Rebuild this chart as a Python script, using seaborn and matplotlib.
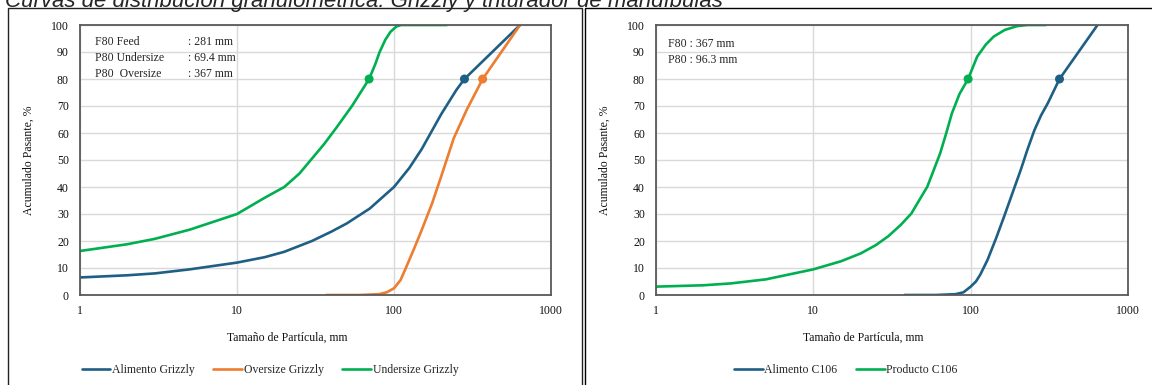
import matplotlib
matplotlib.use("Agg")
import matplotlib.pyplot as plt
from matplotlib.patches import Rectangle
from matplotlib.lines import Line2D
import seaborn as sns
import pandas as pd

# ---------------- data ----------------
title = "Curvas de distribución granulométrica: Grizzly y triturador de mandíbulas"

feed_size = [1, 2, 3, 5, 10, 15, 20, 30, 40, 50, 70, 100, 125, 150, 200, 250, 281, 635]
feed_pass = [6.5, 7.3, 8.0, 9.5, 12.0, 14.0, 16.0, 20.0, 23.5, 26.5, 32.0, 40.0, 47.0, 54.0, 67.0, 76.0, 80.0, 100.0]

over_size = [37, 60, 80, 90, 100, 110, 120, 135, 150, 175, 200, 240, 290, 367, 635]
over_pass = [0, 0, 0.3, 1.0, 2.5, 5.5, 10.5, 17.5, 24, 34, 44, 58, 68.5, 80, 100]

under_size = [1, 2, 3, 5, 10, 15, 20, 25, 30, 36, 43, 54, 69.4, 76, 81, 88, 95, 104, 111, 217]
under_pass = [16.3, 18.8, 20.8, 24.2, 30, 36, 40, 45, 50.5, 56, 62, 70, 80, 85.5, 90, 94.5, 97.5, 99.5, 100, 100]

c106_feed_size = [38, 60, 80, 90, 100, 108, 115, 128, 145, 163, 185, 208, 230, 254, 280, 309, 367, 640]
c106_feed_pass = [0, 0, 0.3, 1.0, 3.1, 5.0, 7.5, 13, 21, 29, 38, 46.3, 54, 61, 66.5, 71, 80, 100]

c106_prod_size = [1, 2, 3, 5, 10, 15, 20, 25, 30, 36, 42, 47, 53, 58, 64, 70, 76, 85, 96.3, 110, 125, 140, 165, 198, 230, 300]
c106_prod_pass = [3.1, 3.6, 4.3, 5.8, 9.5, 12.5, 15.4, 18.5, 21.8, 26, 30.2, 35, 40.1, 46, 52.5, 60, 67.3, 74.5, 80, 88.3, 92.8, 95.7, 98.2, 99.6, 100, 100]

left_names = ["Alimento Grizzly", "Oversize Grizzly", "Undersize Grizzly"]
right_names = ["Alimento C106", "Producto C106"]

left_p80_size = [281, 367, 69.4]
right_p80_size = [367, 96.3]
p80_level = 80

left_note_labels = ["F80 Feed", "P80 Undersize", "P80  Oversize"]
left_note_values = [": 281 mm", ": 69.4 mm", ": 367 mm"]
right_note_lines = ["F80 : 367 mm", "P80 : 96.3 mm"]

xticks = [1, 10, 100, 1000]
yticks = list(range(0, 101, 10))

BLUE = "#1F5F85"
ORANGE = "#ED7D31"
GREEN = "#00B050"

# ---------------- style ----------------
sns.set_theme(style="white")
plt.rcParams["font.family"] = ["Liberation Serif", "DejaVu Serif"]
FS = 8.5

W, H = 1152, 385
fig = plt.figure(figsize=(W / 100, H / 100), dpi=100)

def fx(px):
    return px / W

def fy(py):
    return 1 - py / H

# panel boxes
fig.patches.append(Rectangle((fx(8), fy(400)), fx(582 - 8), fy(8) - fy(400),
                             transform=fig.transFigure, fill=False,
                             edgecolor="#222222", lw=1.0))
fig.patches.append(Rectangle((fx(584.5), fy(400)), fx(1160 - 584.5), fy(8) - fy(400),
                             transform=fig.transFigure, fill=False,
                             edgecolor="#000000", lw=1.0))

fig.text(fx(5), fy(6.5), title, fontsize=16, style="italic",
         family=["Liberation Sans", "DejaVu Sans"], va="baseline", ha="left")

ax1 = fig.add_axes([fx(80), fy(295), fx(471), fy(25) - fy(295)])
ax2 = fig.add_axes([fx(656), fy(295), fx(472), fy(25) - fy(295)])

def build(sizes, passes, names):
    frames = []
    for s, p, n in zip(sizes, passes, names):
        frames.append(pd.DataFrame({"size": s, "pass": p, "series": n}))
    return pd.concat(frames, ignore_index=True)

df_left = build([feed_size, over_size, under_size],
                [feed_pass, over_pass, under_pass], left_names)
df_right = build([c106_feed_size, c106_prod_size],
                 [c106_feed_pass, c106_prod_pass], right_names)

pal_left = dict(zip(left_names, [BLUE, ORANGE, GREEN]))
pal_right = dict(zip(right_names, [BLUE, GREEN]))

for ax, df, pal, names, p80s in [
    (ax1, df_left, pal_left, left_names, left_p80_size),
    (ax2, df_right, pal_right, right_names, right_p80_size),
]:
    sns.lineplot(data=df, x="size", y="pass", hue="series", palette=pal,
                 hue_order=names, estimator=None, sort=True, lw=1.9,
                 ax=ax, legend=False)
    mk = pd.DataFrame({"size": p80s, "pass": [p80_level] * len(p80s), "series": names})
    sns.scatterplot(data=mk, x="size", y="pass", hue="series", palette=pal,
                    hue_order=names, s=42, edgecolor="none", ax=ax,
                    legend=False, zorder=5)
    ax.set_xscale("log")
    ax.set_xlim(1, 1000)
    ax.set_ylim(0, 100)
    ax.set_xticks(xticks)
    ax.set_xticklabels([str(t) for t in xticks])
    ax.set_yticks(yticks)
    ax.set_yticklabels([str(t) for t in yticks])
    ax.minorticks_off()
    ax.tick_params(axis="both", length=0, labelsize=FS, colors="#111111")
    ax.tick_params(axis="y", pad=8)
    ax.tick_params(axis="x", pad=7)
    ax.grid(True, which="major", color="#d9d9d9", lw=1.0)
    ax.set_axisbelow(True)
    for sp in ax.spines.values():
        sp.set_visible(True)
        sp.set_color("#595959")
        sp.set_linewidth(1.3)
    ax.set_xlabel("Tamaño de Partícula, mm", fontsize=FS, color="#111111")
    ax.set_ylabel("Acumulado Pasante, %", fontsize=FS, color="#111111")
    ax.xaxis.set_label_coords(0.44, -0.136)
    ax.yaxis.set_label_coords(-0.0955, 0.5)

# notes
for i, (lab, val) in enumerate(zip(left_note_labels, left_note_values)):
    yy = (295 - (42 + 16 * i)) / 270
    ax1.text((95 - 80) / 471, yy, lab, transform=ax1.transAxes, fontsize=FS, va="center")
    ax1.text((188 - 80) / 471, yy, val, transform=ax1.transAxes, fontsize=FS, va="center")
for i, line in enumerate(right_note_lines):
    yy = (295 - (44 + 16 * i)) / 270
    ax2.text((668 - 656) / 472, yy, line, transform=ax2.transAxes, fontsize=FS, va="center")

# legends
def handles(names, pal):
    return [Line2D([0], [0], color=pal[n], lw=1.9) for n in names]

fig.legend(handles(left_names, pal_left), left_names, loc="center",
           bbox_to_anchor=(fx(270), fy(370)), ncol=3, frameon=False,
           fontsize=FS, handlelength=2.4, handletextpad=0.15, columnspacing=1.6)
fig.legend(handles(right_names, pal_right), right_names, loc="center",
           bbox_to_anchor=(fx(846), fy(370)), ncol=2, frameon=False,
           fontsize=FS, handlelength=2.4, handletextpad=0.15, columnspacing=1.6)

fig.savefig("out.png", dpi=100)
